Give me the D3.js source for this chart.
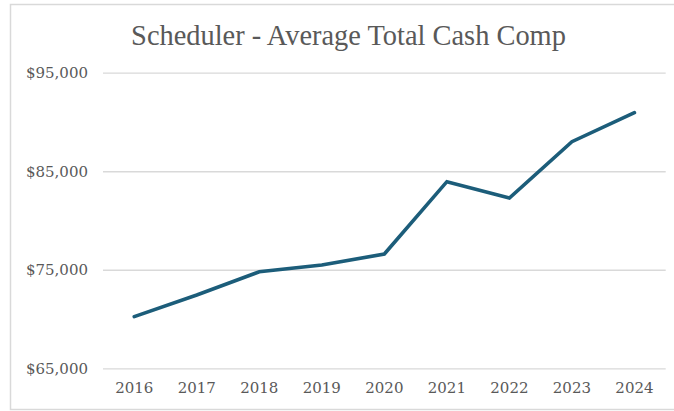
<!DOCTYPE html>
<html>
<head>
<meta charset="utf-8">
<script src="https://cdn.jsdelivr.net/npm/d3@7"></script>
<style>
	html, body {margin: 0; padding: 0; background: #fff;}
	svg text {font-family: Georgia, "DejaVu Serif", "Liberation Serif", serif; fill: #595959;}
</style>
</head>
<body>
<svg id="chart"></svg>
<script>
	var years = ['2016', '2017', '2018', '2019', '2020', '2021', '2022', '2023', '2024'],
		avgCashComp = [70240, 72440, 74800, 75480, 76600, 83940, 82280, 88000, 90940],
		yTicks = [65000, 75000, 85000, 95000],
		title = 'Scheduler - Average Total Cash Comp';

	var width = 674,
		height = 411,
		margin = {top: 72.7, right: 8.3, bottom: 42.7, left: 103},
		svg, x, y, line, t, w;

	svg = d3.select('#chart')
		.attr('width', width)
		.attr('height', height);

	// Chart frame
	svg.append('rect')
		.attr('x', 10.5)
		.attr('y', 4.5)
		.attr('width', 700)
		.attr('height', 405)
		.style('fill', 'none')
		.style('stroke', '#d9d9d9')
		.style('stroke-width', 1.5);

	x = d3.scaleBand()
		.domain(years)
		.range([margin.left, width - margin.right])
		.padding(0);

	y = d3.scaleLinear()
		.domain([65000, 95000])
		.range([height - margin.bottom, margin.top]);

	// Gridlines
	svg.append('g')
		.attr('class', 'grid')
		.attr('transform', 'translate(' + margin.left + ',0)')
		.call(d3.axisRight(y)
			.tickValues(yTicks)
			.tickSize(width - margin.right - margin.left)
			.tickFormat(''))
		.call(function (g) {
			g.select('.domain').remove();
			g.selectAll('line').style('stroke', '#d9d9d9').style('stroke-width', 1.3);
		});

	// Y axis labels
	svg.append('g')
		.attr('transform', 'translate(88,0)')
		.call(d3.axisLeft(y)
			.tickValues(yTicks)
			.tickSize(0)
			.tickPadding(0)
			.tickFormat(function (d) {return '$' + d3.format(',')(d);}))
		.call(function (g) {
			g.select('.domain').remove();
			g.selectAll('text')
				.attr('font-size', 15)
				.attr('dy', '0.32em')
				.style('font-family', '"DejaVu Serif", serif')
				.style('fill', '#595959');
		});

	// X axis labels
	svg.append('g')
		.attr('transform', 'translate(0,' + (height - margin.bottom) + ')')
		.call(d3.axisBottom(x)
			.tickSize(0)
			.tickPadding(14))
		.call(function (g) {
			g.select('.domain').remove();
			g.selectAll('text')
				.attr('font-size', 15)
				.style('font-family', '"DejaVu Serif", serif')
				.style('fill', '#595959');
		});

	// Line
	line = d3.line()
		.x(function (d, i) {return x(years[i]) + x.bandwidth() / 2;})
		.y(function (d) {return y(d);});

	svg.append('path')
		.datum(avgCashComp)
		.attr('d', line)
		.style('fill', 'none')
		.style('stroke', '#1c5d7a')
		.style('stroke-width', 3.6)
		.style('stroke-linejoin', 'miter')
		.style('stroke-linecap', 'round');

	// Title, sized to span the same width as the original
	t = svg.append('text')
		.attr('x', 348.5)
		.attr('y', 45)
		.attr('text-anchor', 'middle')
		.attr('font-size', 28)
		.style('font-family', '"Liberation Serif", serif')
		.style('fill', '#595959')
		.text(title);
	w = t.node().getComputedTextLength();
	t.attr('font-size', 28 * 435 / w);
</script>
</body>
</html>
